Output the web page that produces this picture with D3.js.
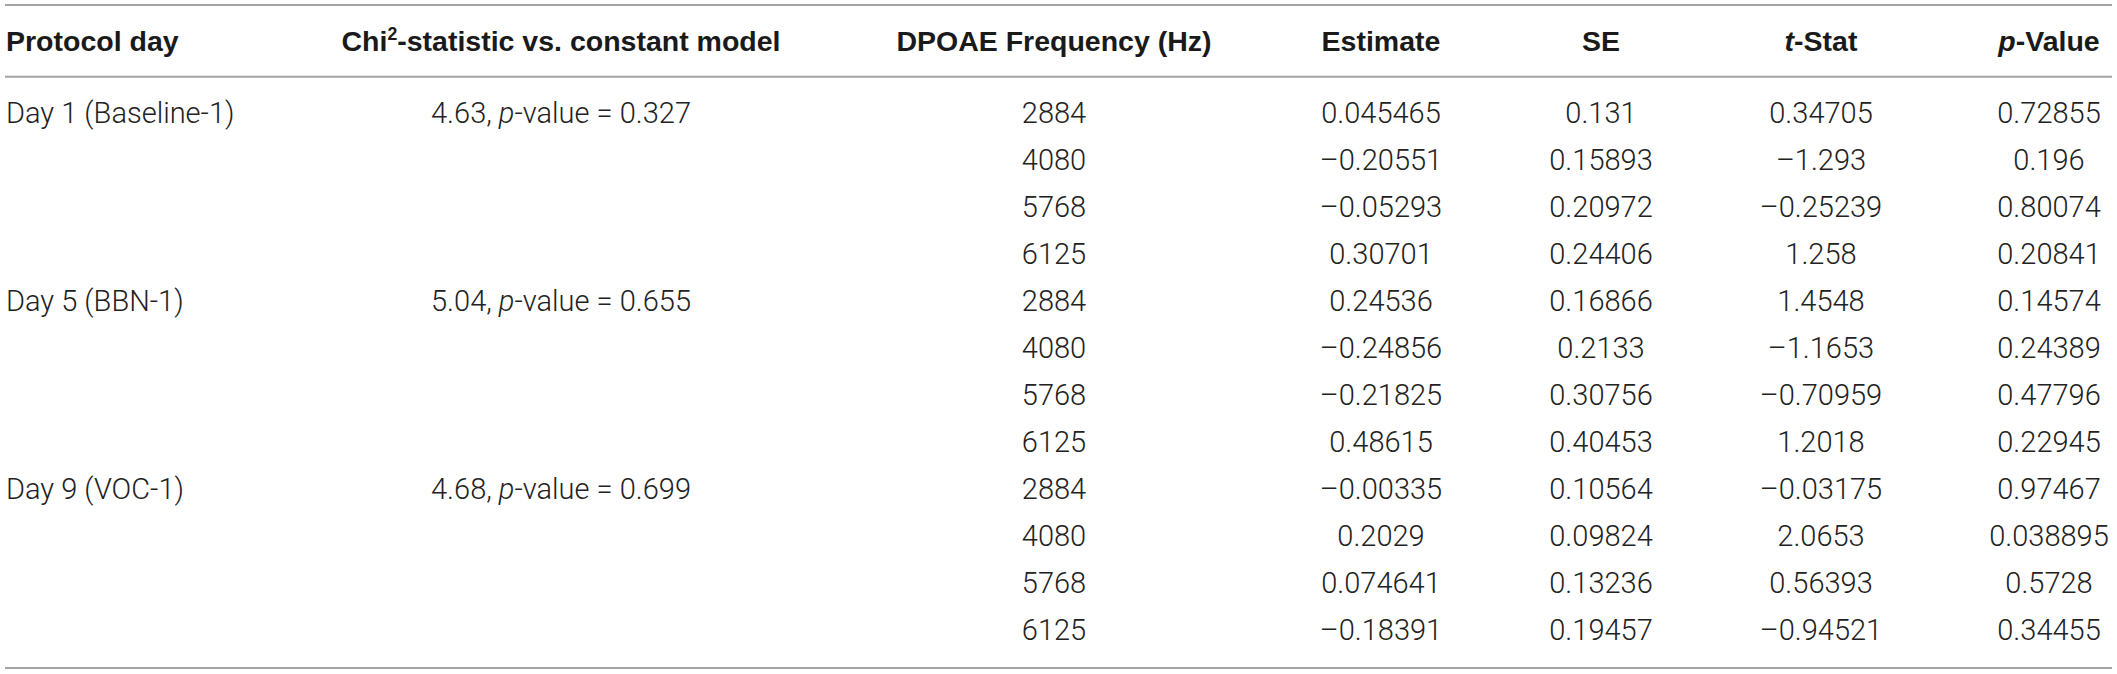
<!DOCTYPE html>
<html>
<head>
<meta charset="utf-8">
<script src="https://cdn.jsdelivr.net/npm/d3@7"></script>
<style>
  html, body { margin: 0; padding: 0; background: #fff; }
  svg { display: block; }
</style>
</head>
<body>
<svg id="chart" width="2117" height="674"></svg>
<script>
// ---- data ----
const protocolDays = ["Day 1 (Baseline-1)", "Day 5 (BBN-1)", "Day 9 (VOC-1)"];
const chiStats = ["4.63", "5.04", "4.68"];
const chiPValues = ["0.327", "0.655", "0.699"];
const frequencies = ["2884", "4080", "5768", "6125"];
const estimates = ["0.045465", "\u20130.20551", "\u20130.05293", "0.30701",
                   "0.24536", "\u20130.24856", "\u20130.21825", "0.48615",
                   "\u20130.00335", "0.2029", "0.074641", "\u20130.18391"];
const seValues = ["0.131", "0.15893", "0.20972", "0.24406",
                  "0.16866", "0.2133", "0.30756", "0.40453",
                  "0.10564", "0.09824", "0.13236", "0.19457"];
const tStats = ["0.34705", "\u20131.293", "\u20130.25239", "1.258",
                "1.4548", "\u20131.1653", "\u20130.70959", "1.2018",
                "\u20130.03175", "2.0653", "0.56393", "\u20130.94521"];
const pValues = ["0.72855", "0.196", "0.80074", "0.20841",
                 "0.14574", "0.24389", "0.47796", "0.22945",
                 "0.97467", "0.038895", "0.5728", "0.34455"];

// ---- layout ----
const W = 2117, H = 674;
const svg = d3.select("#chart");
const headerFont = "'Liberation Sans', Arial, Helvetica, sans-serif";
const bodyFont = "Roboto, 'Liberation Sans', sans-serif";
const headerSize = 28.5, bodySize = 29;
const textColor = "#222", headColor = "#1a1a1a", ruleColor = "#a3a3a3";

const colKeys = ["day", "chi", "freq", "est", "se", "t", "p"];
const x = d3.scaleOrdinal().domain(colKeys).range([6, 561, 1054, 1381, 1601, 1821, 2049]);
const anchor = d3.scaleOrdinal().domain(colKeys).range(["start", "middle", "middle", "middle", "middle", "middle", "middle"]);

const nRows = protocolDays.length * frequencies.length;
const y = d3.scaleLinear().domain([0, nRows - 1]).range([122.7, 640]);

// rules
const rules = [5, 76.7, 668];
svg.selectAll("line.rule").data(rules).join("line")
  .attr("class", "rule")
  .attr("x1", 5).attr("x2", 2112)
  .attr("y1", d => d).attr("y2", d => d)
  .attr("stroke", ruleColor).attr("stroke-width", 2);

// header
const headerY = 50.7;
const headers = [
  { key: "day", parts: [{ t: "Protocol day" }] },
  { key: "chi", parts: [{ t: "Chi" }, { t: "2", sup: true }, { t: "-statistic vs. constant model" }] },
  { key: "freq", parts: [{ t: "DPOAE Frequency (Hz)" }] },
  { key: "est", parts: [{ t: "Estimate" }] },
  { key: "se", parts: [{ t: "SE" }] },
  { key: "t", parts: [{ t: "t", it: true }, { t: "-Stat" }] },
  { key: "p", parts: [{ t: "p", it: true }, { t: "-Value" }] }
];
const hText = svg.selectAll("text.head").data(headers).join("text")
  .attr("class", "head")
  .attr("x", d => x(d.key)).attr("y", headerY)
  .attr("text-anchor", d => anchor(d.key))
  .attr("font-family", headerFont).attr("font-weight", 700)
  .attr("font-size", headerSize).attr("fill", headColor);
hText.each(function(d) {
  const sel = d3.select(this);
  d.parts.forEach((p, i) => {
    const ts = sel.append("tspan").text(p.t);
    if (p.it) ts.attr("font-style", "italic");
    if (p.sup) {
      ts.attr("font-size", headerSize * 0.62).attr("dy", -11);
    } else if (i > 0 && d.parts[i - 1].sup) {
      ts.attr("dy", 11);
    }
  });
});

// body rows
const rows = d3.range(nRows).map(i => {
  const g = Math.floor(i / frequencies.length);
  const k = i % frequencies.length;
  return {
    i, first: k === 0,
    day: protocolDays[g], chi: chiStats[g], chiP: chiPValues[g],
    freq: frequencies[k], est: estimates[i], se: seValues[i], t: tStats[i], p: pValues[i]
  };
});

const rowG = svg.selectAll("g.row").data(rows).join("g")
  .attr("class", "row")
  .attr("transform", d => `translate(0,${y(d.i)})`);

function cell(sel, key, fn) {
  sel.append("text")
    .attr("x", x(key)).attr("y", 0)
    .attr("text-anchor", anchor(key))
    .attr("font-family", bodyFont).attr("font-weight", 300)
    .attr("font-size", bodySize).attr("fill", textColor)
    .each(function(d) { fn(d3.select(this), d); });
}

rowG.filter(d => d.first).call(sel => {
  cell(sel, "day", (t, d) => t.text(d.day));
  cell(sel, "chi", (t, d) => {
    t.append("tspan").text(d.chi + ", ");
    t.append("tspan").attr("font-style", "italic").text("p");
    t.append("tspan").text("-value = " + d.chiP);
  });
});
rowG.call(sel => {
  cell(sel, "freq", (t, d) => t.text(d.freq));
  cell(sel, "est", (t, d) => t.text(d.est));
  cell(sel, "se", (t, d) => t.text(d.se));
  cell(sel, "t", (t, d) => t.text(d.t));
  cell(sel, "p", (t, d) => t.text(d.p));
});
</script>
</body>
</html>
